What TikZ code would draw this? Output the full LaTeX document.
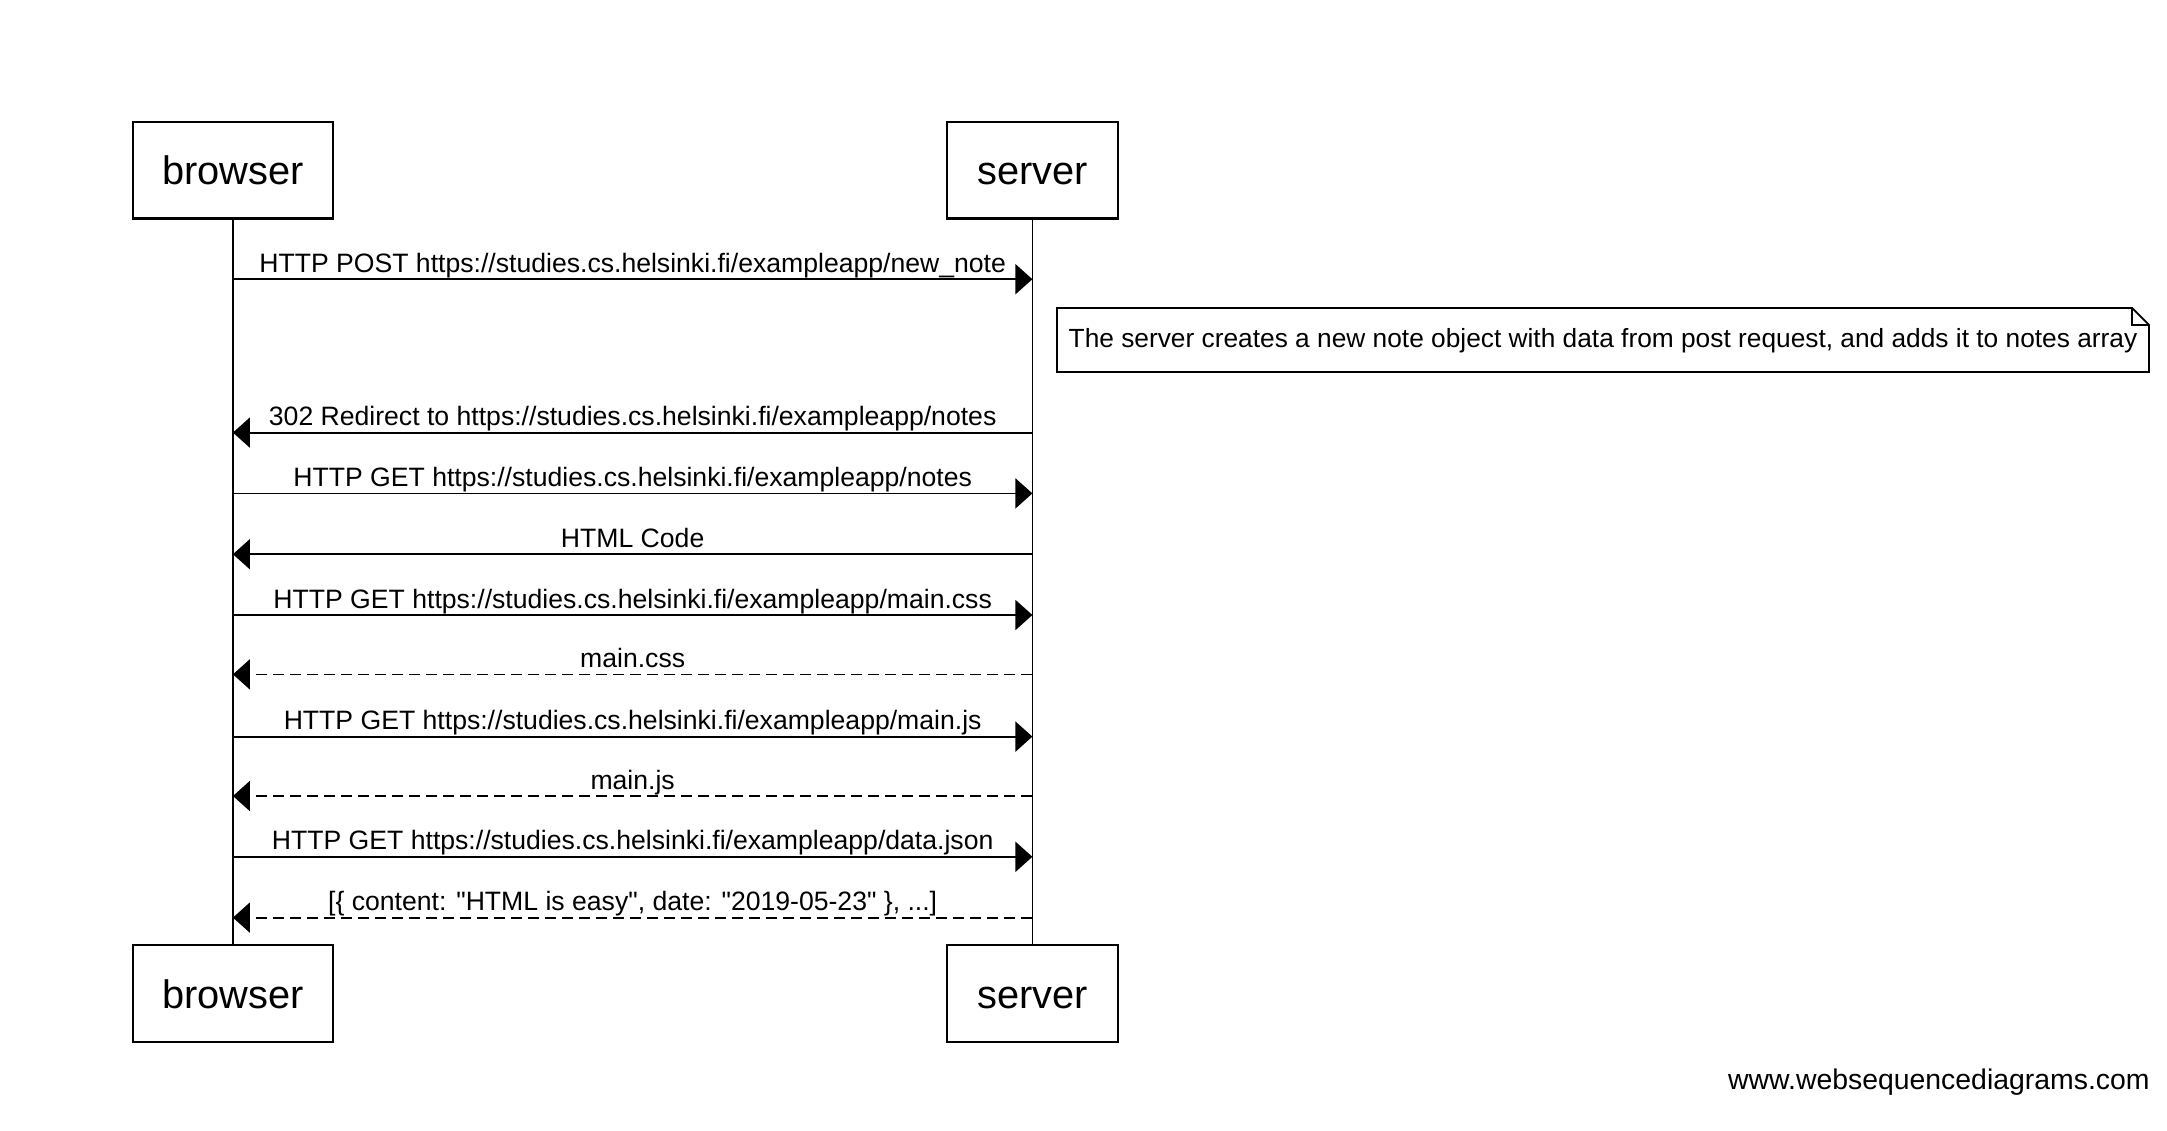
\documentclass[tikz,border=0pt]{standalone}
\usepackage{fontspec}
\setmainfont{Liberation Sans}[Ligatures=TeXOff]
\usetikzlibrary{arrows.meta}
\begin{document}
\begin{tikzpicture}[x=0.5pt,y=-0.5pt,
  actor/.style={draw, line width=1.1pt, fill=white, inner sep=0pt,
    minimum height=48.4pt, text height=14.5pt, text depth=0pt,
    font=\fontsize{19.9}{22}\selectfont},
  lifeline/.style={line width=0.9pt},
  msg/.style={line width=0.9pt, -{Triangle[length=8.5pt,width=15pt]}},
  reply/.style={msg, dash pattern=on 5.5pt off 3pt},
  lbl/.style={font=\fontsize{13.3}{15}\selectfont, anchor=base, inner sep=0pt},
  notebox/.style={line width=0.9pt},
]
\useasboundingbox (0,0) rectangle (2167,1130);

% participants, top and bottom
\node[actor, minimum width=100.2pt] (bt) at (232.9,170) {browser};
\node[actor, minimum width=85.7pt]  (st) at (1032.4,170) {server};
\node[actor, minimum width=100.2pt] (bb) at (232.9,993.6) {browser};
\node[actor, minimum width=85.7pt]  (sb) at (1032.4,993.6) {server};

% lifelines
\draw[lifeline] (bt.south) -- (bb.north);
\draw[lifeline] (st.south) -- (sb.north);

% message anchor points on each lifeline
\foreach \i/\y in {1/279.2,2/432.6,3/493.4,4/554.2,5/615,6/674.4,7/736.6,8/796,9/856.8,10/917.6}{
  \coordinate (b\i) at (232.9,\y);
  \coordinate (s\i) at (1032.4,\y);
}

% messages
\draw[msg] (b1) -- node[lbl, above=3.5pt, anchor=base]{HTTP POST https://studies.cs.helsinki.fi/exampleapp/new\_note} (s1);
\draw[msg] (s2) -- node[lbl, above=3.5pt, anchor=base]{302 Redirect to https://studies.cs.helsinki.fi/exampleapp/notes} (b2);
\draw[msg] (b3) -- node[lbl, above=3.5pt, anchor=base]{HTTP GET https://studies.cs.helsinki.fi/exampleapp/notes} (s3);
\draw[msg] (s4) -- node[lbl, above=3.5pt, anchor=base]{HTML Code} (b4);
\draw[msg] (b5) -- node[lbl, above=3.5pt, anchor=base]{HTTP GET https://studies.cs.helsinki.fi/exampleapp/main.css} (s5);
\draw[reply] (s6) -- node[lbl, above=3.5pt, anchor=base]{main.css} (b6);
\draw[msg] (b7) -- node[lbl, above=3.5pt, anchor=base]{HTTP GET https://studies.cs.helsinki.fi/exampleapp/main.js} (s7);
\draw[reply] (s8) -- node[lbl, above=3.5pt, anchor=base]{main.js} (b8);
\draw[msg] (b9) -- node[lbl, above=3.5pt, anchor=base]{HTTP GET https://studies.cs.helsinki.fi/exampleapp/data.json} (s9);
\draw[reply] (s10) -- node[lbl, above=3.5pt, anchor=base]{[\{ content: "HTML is easy", date: "2019-05-23" \}, ...]} (b10);

% note beside the server lifeline, with a folded corner
\draw[notebox] (1057,308) -- (2132,308) -- (2149,325) -- (2149,372) -- (1057,372) -- cycle;
\draw[notebox] (2132,308) -- (2132,325) -- (2149,325);
\node[lbl, font=\fontsize{13.15}{15}\selectfont] (note) at (1603,347) {The server creates a new note object with data from post request, and adds it to notes array};

% footer
\node[font=\fontsize{14.2}{16}\selectfont, anchor=base east, inner sep=0pt] (footer) at (2150,1089) {www.websequencediagrams.com};
\end{tikzpicture}
\end{document}
